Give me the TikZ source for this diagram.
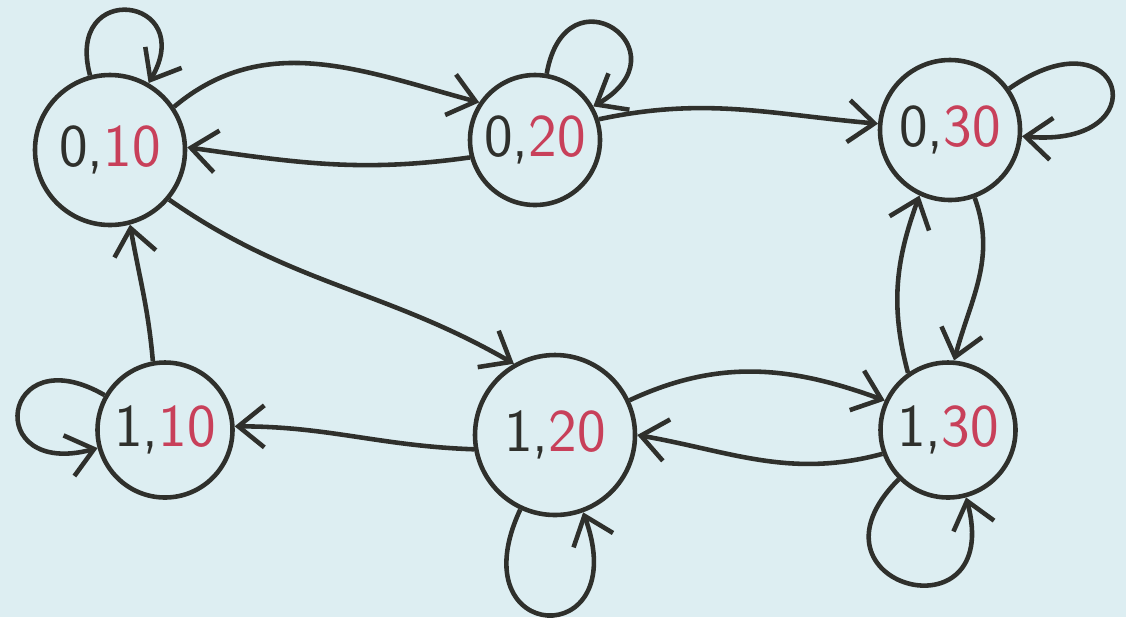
\documentclass[tikz,border=0pt]{standalone}
\usepackage{xcolor}
\usepackage{tikz}
\usetikzlibrary{arrows.meta}
\definecolor{paper}{HTML}{DDEEF2}
\definecolor{pen}{HTML}{2F302C}
\definecolor{redink}{HTML}{C8405A}
\tikzset{
  stnode/.style={circle, draw=pen, line width=1.3pt, inner sep=0pt, font=\LARGE\sffamily, text=pen},
  arc/.style={draw=pen, line width=1.3pt, -{Straight Barb[length=2.6mm,width=4.2mm]}},
  selfloop/.style={arc, min distance=#1},
}
\newcommand{\st}[2]{#1,{\color{redink}#2}}

\begin{document}
\begin{tikzpicture}
\fill[paper] (0,0) rectangle (11.26,-6.17);
\useasboundingbox (0,0) rectangle (11.26,-6.17);

\node[stnode, minimum size=1.5cm] (s010) at (1.10,-1.50) {\st{0}{10}};
\node[stnode, minimum size=1.3cm] (s020) at (5.35,-1.40) {\st{0}{20}};
\node[stnode, minimum size=1.4cm] (s030) at (9.50,-1.30) {\st{0}{30}};
\node[stnode, minimum size=1.35cm] (s110) at (1.65,-4.30) {\st{1}{10}};
\node[stnode, minimum size=1.6cm] (s120) at (5.55,-4.35) {\st{1}{20}};
\node[stnode, minimum size=1.35cm] (s130) at (9.48,-4.30) {\st{1}{30}};

\draw[arc] (s010.34) to[out=40,in=165] (s020.146);
\draw[arc] (s020.195) to[out=188,in=-8] (s010.2);
\draw[arc] (s020.18) to[out=12,in=175] (s030.175);
\draw[arc] (s130.125) to[out=105,in=250] (s030.245);
\draw[arc] (s030.290) to[out=-70,in=75] (s130.85);
\draw[arc] (s120.25) to[out=25,in=160] (s130.155);
\draw[arc] (s130.200) to[out=195,in=-10] (s120.0);
\draw[arc] (s120.190) to[out=178,in=0] (s110.3);
\draw[arc] (s110.100) to[out=95,in=-80] (s010.285);
\draw[arc] (s010.-40) to[out=-35,in=150] (s120.120);

\draw[selfloop=1.0cm] (s010) to[out=105,in=60] (s010);
\draw[selfloop=1.1cm] (s020) to[out=80,in=30] (s020);
\draw[selfloop=1.4cm] (s030) to[out=35,in=-5] (s030);
\draw[selfloop=1.2cm] (s110) to[out=150,in=195] (s110);
\draw[selfloop=1.5cm] (s120) to[out=245,in=290] (s120);
\draw[selfloop=1.5cm] (s130) to[out=225,in=285] (s130);
\end{tikzpicture}
\end{document}
